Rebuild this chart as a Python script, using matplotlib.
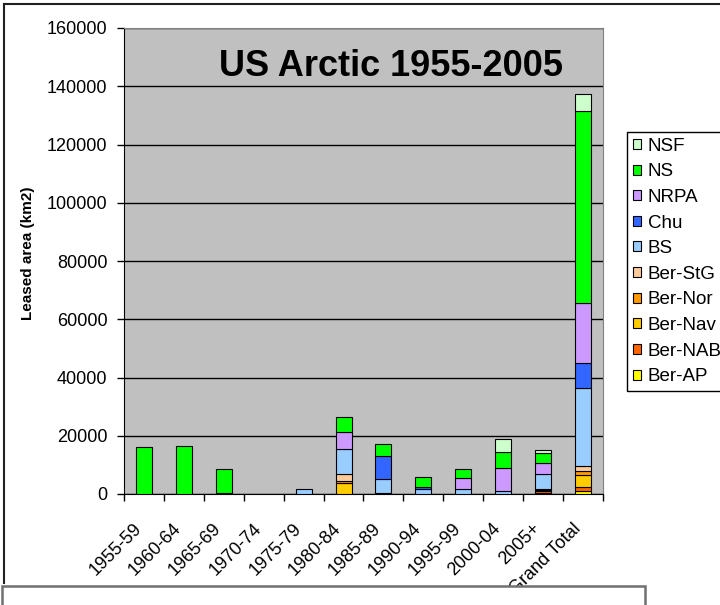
import numpy as np
import matplotlib
matplotlib.use('Agg')
import matplotlib.pyplot as plt
from matplotlib.patches import Patch, Rectangle
from matplotlib.lines import Line2D
import matplotlib.transforms as mtransforms

plt.rcParams['font.family'] = ['Liberation Sans', 'DejaVu Sans']

## data (km2)
periods = ['1955-59', '1960-64', '1965-69', '1970-74', '1975-79', '1980-84',
           '1985-89', '1990-94', '1995-99', '2000-04', '2005+', 'Grand Total']

ber_ap  = [0, 0, 0, 0, 0, 0, 0, 0, 0, 0, 500, 1140]
ber_nab = [0, 0, 300, 0, 0, 0, 400, 0, 0, 0, 400, 1370]
ber_nav = [0, 0, 0, 0, 0, 3700, 0, 0, 0, 0, 500, 3900]
ber_nor = [0, 0, 0, 0, 0, 900, 0, 0, 0, 0, 400, 1600]
ber_stg = [0, 0, 0, 0, 0, 2100, 0, 0, 0, 0, 0, 1700]
bs      = [0, 0, 0, 0, 1600, 8900, 4900, 1600, 1700, 900, 5200, 26600]
chu     = [0, 0, 0, 0, 0, 0, 7900, 700, 0, 0, 0, 8600]
nrpa    = [0, 0, 0, 0, 0, 5600, 0, 0, 3650, 7900, 3550, 20800]
ns      = [16200, 16500, 8200, 0, 0, 5150, 4100, 3650, 3300, 5600, 3450, 65800]
nsf     = [0, 0, 0, 0, 0, 0, 0, 0, 0, 4600, 1130, 5800]

series = [('Ber-AP', ber_ap, '#FFFF00'),
          ('Ber-NAB', ber_nab, '#FF6600'),
          ('Ber-Nav', ber_nav, '#FFCC00'),
          ('Ber-Nor', ber_nor, '#FF9900'),
          ('Ber-StG', ber_stg, '#FFCC99'),
          ('BS', bs, '#99CCFF'),
          ('Chu', chu, '#3366FF'),
          ('NRPA', nrpa, '#CC99FF'),
          ('NS', ns, '#00FF00'),
          ('NSF', nsf, '#CCFFCC')]

W, H = 720, 605
fig = plt.figure(figsize=(W / 100, H / 100), dpi=100)
ax = fig.add_axes([124 / W, 1 - 494 / H, 479 / W, 466 / H])
ax.set_facecolor('#C0C0C0')

x = np.arange(len(periods))
bottom = np.zeros(len(periods))
handles = []
for name, vals, col in series:
    vals = np.array(vals, dtype=float)
    keep = vals > 0
    ax.bar(x[keep], vals[keep], width=0.4, bottom=bottom[keep], color=col,
           edgecolor='black', linewidth=0.8, zorder=3)
    bottom += vals
    handles.append(Patch(facecolor=col, edgecolor='black', linewidth=0.8, label=name))

ax.set_ylim(0, 160000)
ax.set_xlim(-0.5, len(periods) - 0.5)
ax.set_yticks(np.arange(0, 160001, 20000))
ax.set_yticklabels([str(v) for v in range(0, 160001, 20000)], fontsize=13)
ax.yaxis.grid(True, color='black', linewidth=1, zorder=1)
ax.set_axisbelow(True)
ax.tick_params(axis='y', length=5, width=1, pad=7, direction='out')

ax.set_xticks(x)
ax.set_xticks(np.arange(-0.5, len(periods)), minor=True)
ax.tick_params(axis='x', which='major', length=0, pad=23)
ax.tick_params(axis='x', which='minor', length=5, width=1, direction='out')
ax.set_xticklabels(periods, fontsize=13, rotation=45, ha='right', va='center',
                   rotation_mode='anchor')
offset = mtransforms.ScaledTranslation(-0.05, 0, fig.dpi_scale_trans)
for lab in ax.get_xticklabels():
    lab.set_transform(lab.get_transform() + offset)

for s in ['top', 'right']:
    ax.spines[s].set_color('#808080')
for s in ['left', 'bottom']:
    ax.spines[s].set_color('black')

ax.text(0.557, 0.917, 'US Arctic 1955-2005', transform=ax.transAxes,
        ha='center', va='center', fontsize=26, fontweight='bold', zorder=5)

fig.text(28.5 / W, 1 - 253 / H, 'Leased area (km2)', rotation=90,
         ha='center', va='center', fontsize=11, fontweight='bold')

leg = ax.legend(handles=handles[::-1], loc='upper left',
                bbox_to_anchor=(627 / W, 1 - 132 / H), bbox_transform=fig.transFigure,
                fontsize=13.5, frameon=True, fancybox=False, edgecolor='black',
                framealpha=1, borderpad=0.3, handlelength=0.45, handleheight=0.45,
                handletextpad=0.35, labelspacing=0.46, borderaxespad=0)
leg.get_frame().set_linewidth(1)

# chart area border (cut by the picture edge)
fig.add_artist(Line2D([4 / W, 4 / W], [1 - 4 / H, 1 - 583 / H], color='#202020',
                      linewidth=1.5, transform=fig.transFigure))
fig.add_artist(Line2D([4 / W, 1], [1 - 4 / H, 1 - 4 / H], color='#202020',
                      linewidth=1.5, transform=fig.transFigure))

# the empty text box below the chart
box = Rectangle((2 / W, -0.05), 643 / W, (0.05 + 1 - 586 / H), transform=fig.transFigure,
                facecolor='white', edgecolor='#707070', linewidth=1.8, zorder=10)
fig.patches.append(box)

fig.savefig('out.png', dpi=100)
plt.close()
